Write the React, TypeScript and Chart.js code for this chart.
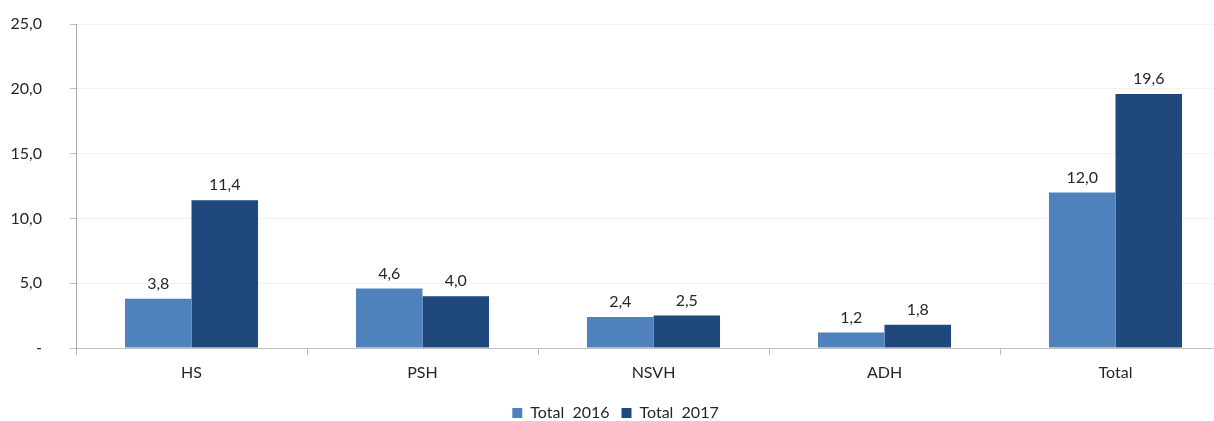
import React, { useEffect, useRef } from "react";
import { Chart, registerables } from "chart.js";

Chart.register(...registerables);

const categories = ["HS", "PSH", "NSVH", "ADH", "Total"];
const series2016 = [3.8, 4.6, 2.4, 1.2, 12.0];
const series2017 = [11.4, 4.0, 2.5, 1.8, 19.6];
const seriesLabels = ["Total  2016", "Total  2017"];
const yTicks = [0, 5, 10, 15, 20, 25];

const FONT = "Lato, 'Open Sans', sans-serif";
const fmt = (v: number) => (v === 0 ? "-" : v.toFixed(1).replace(".", ","));

const valueLabels = {
  id: "valueLabels",
  afterDatasetsDraw(chart: any) {
    const ctx = chart.ctx;
    ctx.save();
    ctx.font = `16px ${FONT}`;
    ctx.fillStyle = "#262626";
    ctx.textAlign = "center";
    ctx.textBaseline = "middle";
    chart.data.datasets.forEach((ds: any, i: number) => {
      const meta = chart.getDatasetMeta(i);
      meta.data.forEach((bar: any, j: number) => {
        ctx.fillText(fmt(ds.data[j]), bar.x, bar.y - 15);
      });
    });
    ctx.restore();
  },
};

export default function App() {
  const ref = useRef<HTMLCanvasElement>(null);
  useEffect(() => {
    const chart = new Chart(ref.current!, {
      type: "bar",
      data: {
        labels: categories,
        datasets: [
          {
            label: seriesLabels[0],
            data: series2016,
            backgroundColor: "#4f81bd",
            categoryPercentage: 0.576,
            barPercentage: 1,
          },
          {
            label: seriesLabels[1],
            data: series2017,
            backgroundColor: "#1f497d",
            categoryPercentage: 0.576,
            barPercentage: 1,
          },
        ],
      },
      options: {
        animation: false,
        responsive: false,
        maintainAspectRatio: false,
        layout: { padding: { top: 24, right: 0, left: 0, bottom: -10 } },
        plugins: {
          legend: {
            position: "bottom",
            labels: {
              boxWidth: 10,
              boxHeight: 10,
              padding: 12,
              color: "#262626",
              font: { family: FONT, size: 16 },
            },
          },
          tooltip: { enabled: false },
        },
        scales: {
          x: {
            offset: true,
            grid: {
              offset: true,
              drawOnChartArea: false,
              drawTicks: true,
              tickLength: 7,
              tickColor: "#bfbfbf",
            },
            border: { color: "#bfbfbf" },
            ticks: {
              color: "#262626",
              padding: 8,
              font: { family: FONT, size: 16 },
            },
            afterFit: (s: any) => {
              s.height = 45;
              s.paddingLeft = 0;
              s.paddingRight = 0;
            },
          },
          y: {
            min: 0,
            max: 25,
            afterBuildTicks: (s: any) => {
              s.ticks = yTicks.map((v) => ({ value: v }));
            },
            grid: {
              color: "#f2f2f2",
              tickColor: "#bfbfbf",
              tickLength: 6,
            },
            border: { color: "#a6a6a6" },
            ticks: {
              color: "#262626",
              padding: 28,
              font: { family: FONT, size: 16 },
              callback: (v: any) => fmt(Number(v)),
            },
            afterFit: (s: any) => {
              s.width = 76;
              s.paddingTop = 0;
              s.paddingBottom = 0;
            },
          },
        },
      },
      plugins: [valueLabels],
    });
    return () => chart.destroy();
  }, []);
  return (
    <div style={{ position: "fixed", left: 0, top: 0, width: 1214, height: 421, background: "#fff", overflow: "hidden" }}>
      <canvas ref={ref} width={1231} height={421} style={{ width: 1231, height: 421, display: "block" }} />
    </div>
  );
}
